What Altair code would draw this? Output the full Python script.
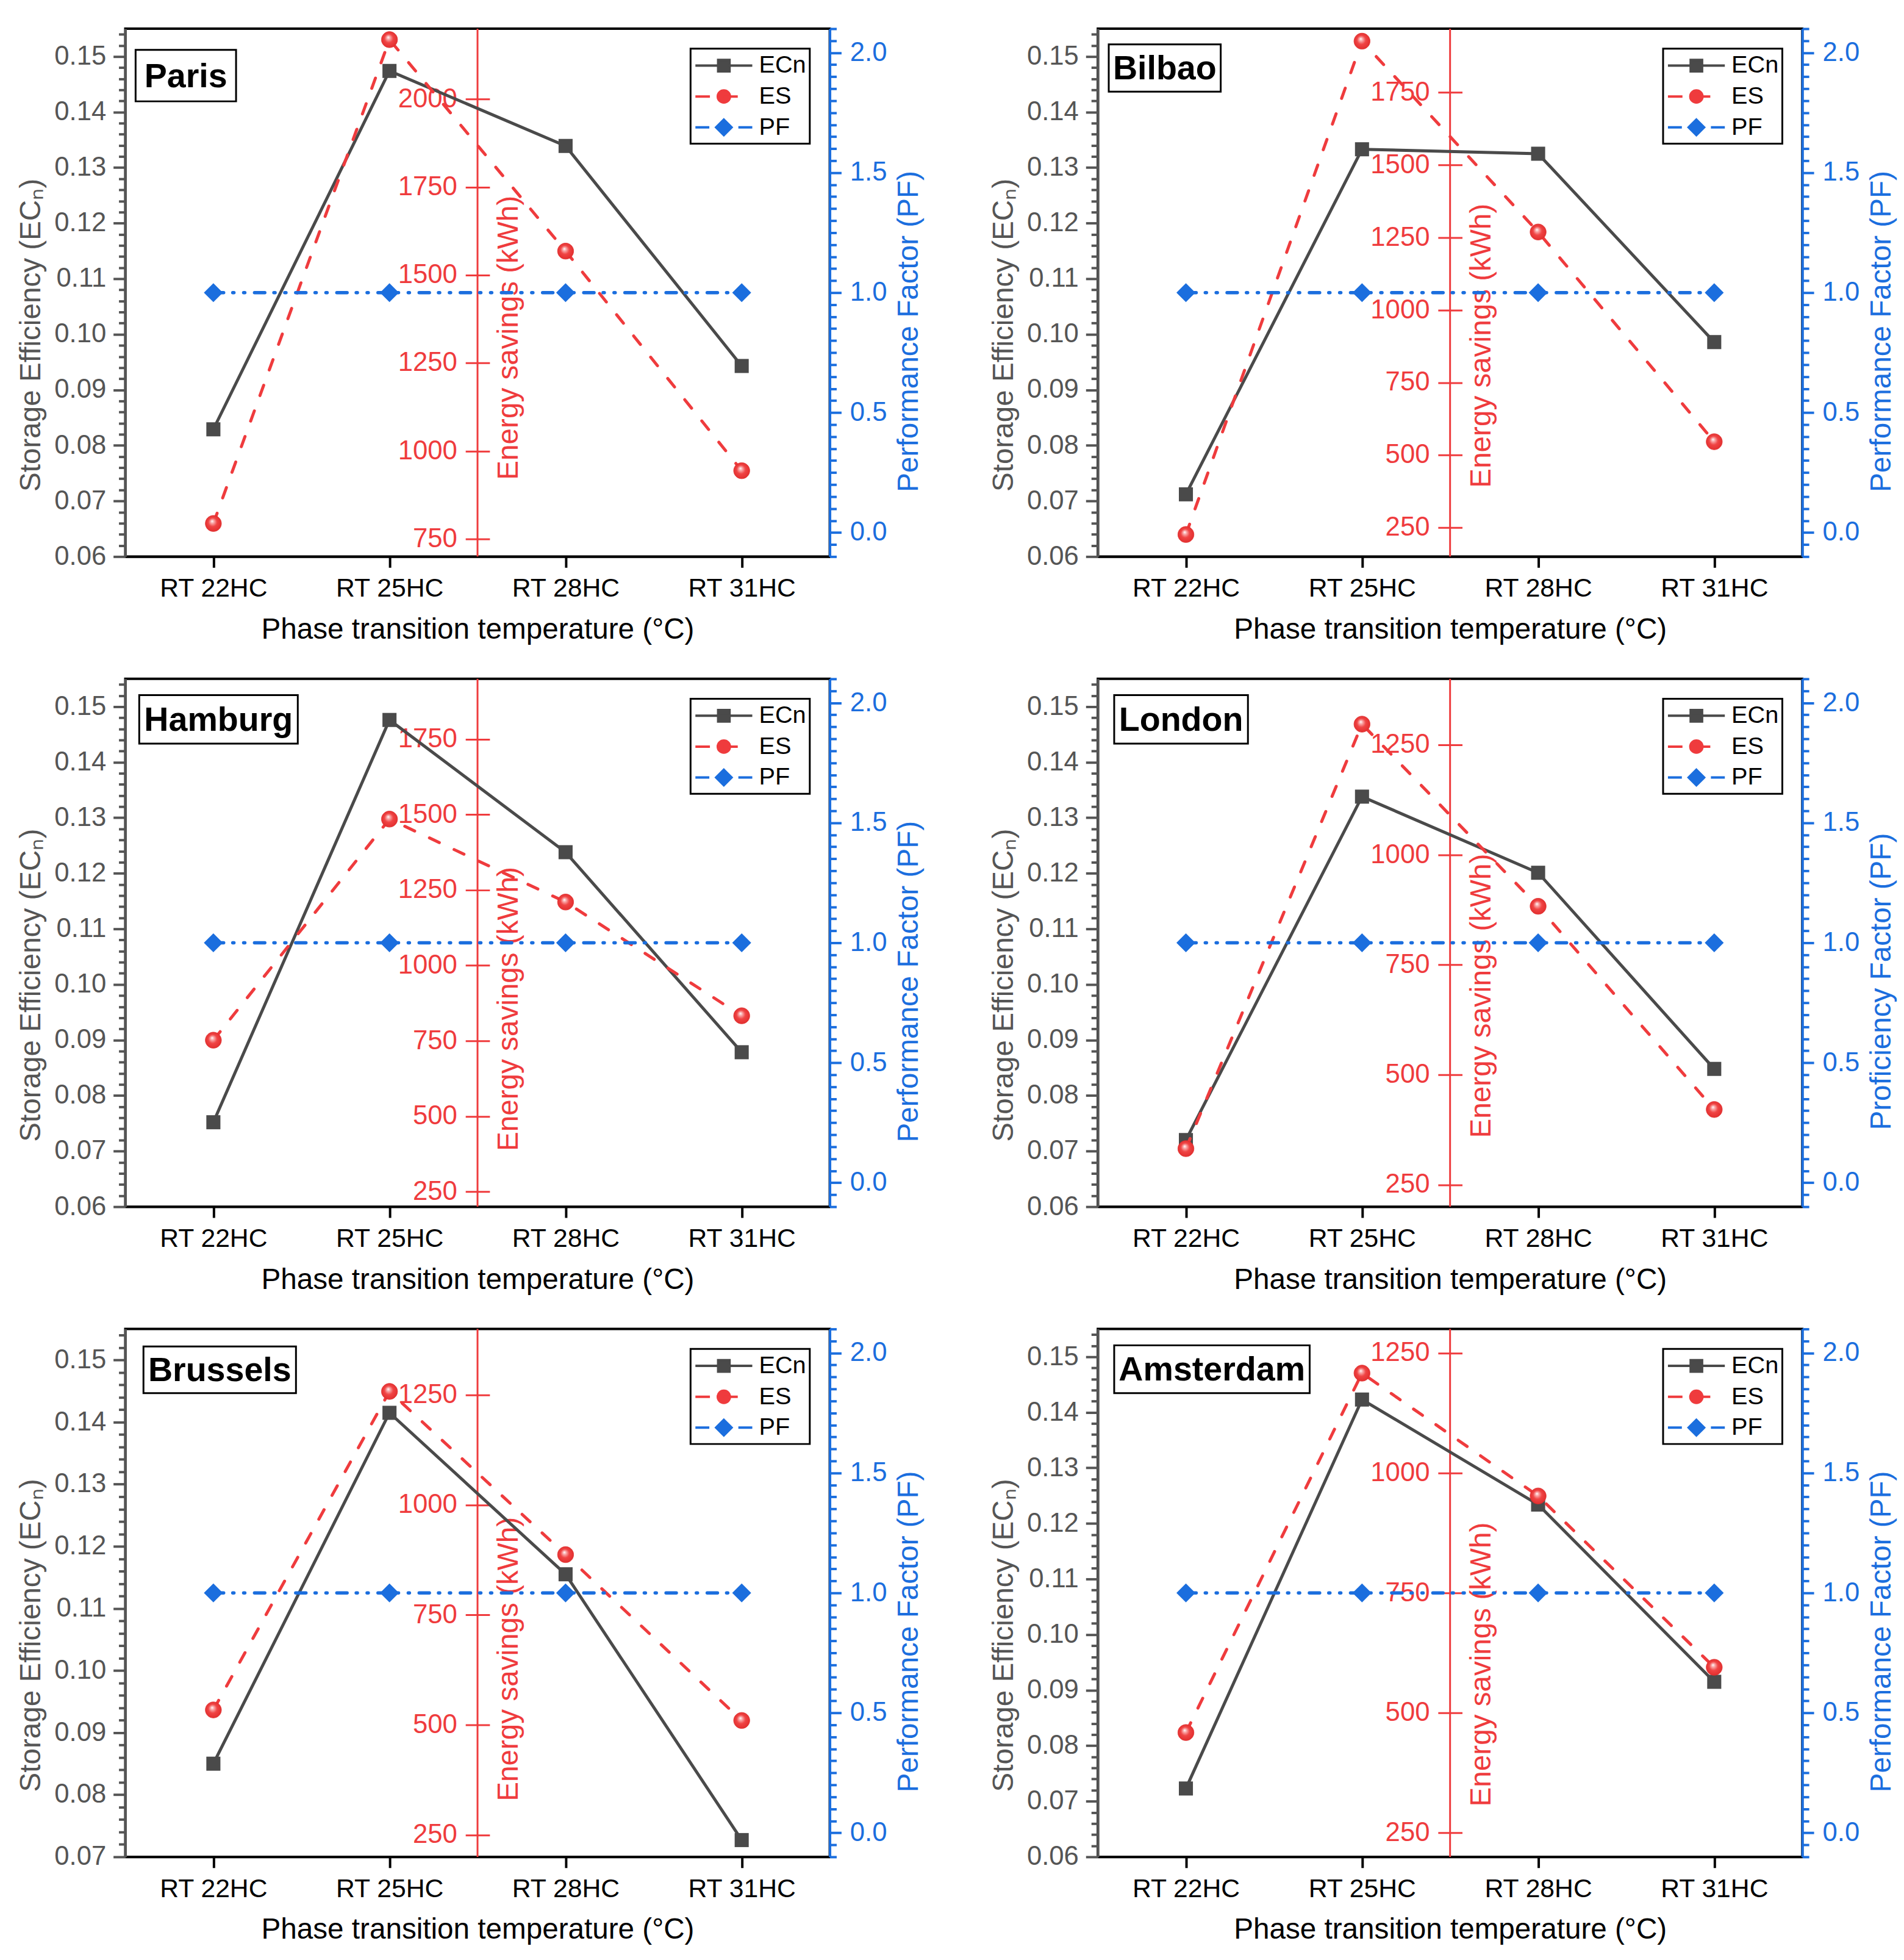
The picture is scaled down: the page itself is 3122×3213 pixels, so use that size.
import altair as alt
import pandas as pd

FONT = "Liberation Sans"
W, H = 1164, 872

CITIES = ["Paris", "Bilbao", "Hamburg", "London", "Brussels", "Amsterdam"]
CATS = ["RT 22HC", "RT 25HC", "RT 28HC", "RT 31HC"]
SERIES = ["ECn", "ES", "PF"]

# Storage efficiency (ECn)
ECN_PARIS = [0.0829, 0.1474, 0.1339, 0.0943]
ECN_BILBAO = [0.0712, 0.1333, 0.1325, 0.0986]
ECN_HAMBURG = [0.0752, 0.1476, 0.1238, 0.0878]
ECN_LONDON = [0.0720, 0.1338, 0.1201, 0.0848]
ECN_BRUSSELS = [0.0850, 0.1415, 0.1155, 0.0727]
ECN_AMSTERDAM = [0.0723, 0.1423, 0.1234, 0.0915]

# Energy savings (kWh)
ES_PARIS = [794, 2169, 1568, 944]
ES_BILBAO = [226, 1927, 1269, 546]
ES_HAMBURG = [752, 1485, 1210, 833]
ES_LONDON = [332, 1297, 883, 421]
ES_BRUSSELS = [534, 1258, 887, 510]
ES_AMSTERDAM = [459, 1208, 952, 595]

# Performance factor (PF)
PF_PARIS = [1.0, 1.0, 1.0, 1.0]
PF_BILBAO = [1.0, 1.0, 1.0, 1.0]
PF_HAMBURG = [1.0, 1.0, 1.0, 1.0]
PF_LONDON = [1.0, 1.0, 1.0, 1.0]
PF_BRUSSELS = [1.0, 1.0, 1.0, 1.0]
PF_AMSTERDAM = [1.0, 1.0, 1.0, 1.0]

ECN = [ECN_PARIS, ECN_BILBAO, ECN_HAMBURG, ECN_LONDON, ECN_BRUSSELS, ECN_AMSTERDAM]
ES = [ES_PARIS, ES_BILBAO, ES_HAMBURG, ES_LONDON, ES_BRUSSELS, ES_AMSTERDAM]
PF = [PF_PARIS, PF_BILBAO, PF_HAMBURG, PF_LONDON, PF_BRUSSELS, PF_AMSTERDAM]

# axis domains and tick labels
ECN_DOMAINS = [[0.06, 0.155], [0.06, 0.155], [0.06, 0.155], [0.06, 0.155], [0.07, 0.155], [0.06, 0.155]]
ES_DOMAINS = [[700, 2200], [150, 1970], [200, 1950], [200, 1400], [200, 1400], [200, 1300]]
ES_TICKS = [
    [750, 1000, 1250, 1500, 1750, 2000],
    [250, 500, 750, 1000, 1250, 1500, 1750],
    [250, 500, 750, 1000, 1250, 1500, 1750],
    [250, 500, 750, 1000, 1250],
    [250, 500, 750, 1000, 1250],
    [250, 500, 750, 1000, 1250],
]
PF_DOMAIN = [-0.1, 2.1]
PF_TITLES = ["Performance Factor (PF)", "Performance Factor (PF)", "Performance Factor (PF)",
             "Proficiency Factor (PF)", "Performance Factor (PF)", "Performance Factor (PF)"]

# styling (positions of annotation boxes, title offsets)
ES_TITLE_FRAC = [0.585, 0.60, 0.625, 0.60, 0.625, 0.635]
BOX_X = [17, 18, 23, 27, 30, 27]
BOX_Y = [35, 26, 27, 27, 29, 27]
BOX_W = [166, 185, 262, 221, 252, 323]
BOX_H = [85, 78, 80, 80, 77, 79]

GRAY = "#4a4a4a"
AXGRAY = "#555555"
RED = "#EF3B3D"
BLUE = "#1B6EDE"
COLORS = [GRAY, RED, BLUE]

# legend symbols: line + marker, drawn at 20 px per unit (symbolSize 1600)
LEG_PATHS = [
    "M-2.35,0H2.35M-0.47,-0.47H0.47V0.47H-0.47Z",
    "M-2.35,0H-1.15M0,0H1.15M-0.5,0A0.5,0.5 0 1,0 0.5,0A0.5,0.5 0 1,0 -0.5,0Z",
    "M-2.35,0H-1.2M1.2,0H2.35M0,-0.64L0.64,0L0,0.64L-0.64,0Z",
]

ES_GRAD = {
    "gradient": "radial",
    "x1": 0.42, "y1": 0.35, "r1": 0.0,
    "x2": 0.5, "y2": 0.5, "r2": 0.55,
    "stops": [
        {"offset": 0.0, "color": "#ffffff"},
        {"offset": 0.2, "color": "#f9a8a8"},
        {"offset": 0.5, "color": "#f04444"},
        {"offset": 1.0, "color": "#e02c2c"},
    ],
}

ECN_MAJOR = "abs(datum.value * 100 - round(datum.value * 100)) < 0.01"
PF_MAJOR = "abs(datum.value * 2 - round(datum.value * 2)) < 0.01"


def ecn_ticks(lo, hi):
    n = int((hi - lo) / 0.002 + 1e-9)
    return [round(lo + k * 0.002, 3) for k in range(n + 1)]


PF_TICKS = [round(-0.1 + k * 0.05, 2) for k in range(45)]

XSCALE = alt.Scale(type="point", domain=CATS, padding=0.5)


def xaxis():
    return alt.Axis(
        orient="bottom", labelAngle=0, labelFontSize=43, labelColor="black", labelPadding=14,
        tickColor="black", tickWidth=4, tickSize=18, domainColor="black", domainWidth=4,
        title="Phase transition temperature (°C)", titleFontSize=48, titleColor="black",
        titleFontWeight="normal", titlePadding=22, grid=False,
    )


def panel(i):
    df = pd.DataFrame({"cat": CATS, "ECn": ECN[i], "ES": ES[i], "PF": PF[i]})
    base = alt.Chart(df)

    left_axis = alt.Axis(
        orient="left", values=ecn_ticks(*ECN_DOMAINS[i]),
        labelExpr=f"{ECN_MAJOR} ? format(datum.value, '.2f') : ''",
        labelFontSize=44, labelColor=AXGRAY, labelPadding=12, labelOverlap=False,
        tickColor=AXGRAY, tickWidth=4,
        tickSize={"condition": {"test": ECN_MAJOR, "value": 20}, "value": 11},
        domainColor=AXGRAY, domainWidth=4, grid=False,
        title="Storage Efficiency (ECₙ)", titleFontSize=48, titleColor=AXGRAY,
        titleFontWeight="normal", titlePadding=13, titleAlign="center", titleY=0.58 * H,
    )
    ecn = base.mark_line(
        color=GRAY, strokeWidth=5,
        point=alt.OverlayMarkDef(shape="square", filled=True, size=540, color=GRAY, opacity=1),
    ).encode(
        x=alt.X("cat:N", scale=XSCALE, axis=xaxis()),
        y=alt.Y("ECn:Q", scale=alt.Scale(domain=ECN_DOMAINS[i], nice=False, zero=False), axis=left_axis),
    )

    es_axis = alt.Axis(
        orient="left", offset=-(W / 2 + 20), values=ES_TICKS[i], format="d",
        labelFontSize=44, labelColor=RED, labelPadding=14, labelOverlap=False,
        tickColor=RED, tickWidth=3, tickSize=40, domain=False, grid=False,
        title="Energy savings (kWh)", titleFontSize=48, titleColor=RED, titleFontWeight="normal",
        titleAngle=270, titleBaseline="top", titleAlign="center",
        titleX=8, titleY=ES_TITLE_FRAC[i] * H,
    )
    es = base.mark_line(
        color=RED, strokeWidth=5, strokeDash=[18, 27], strokeCap="round",
        point=alt.OverlayMarkDef(shape="circle", filled=True, size=700, fill=ES_GRAD,
                                 stroke="#e02c2c", strokeWidth=1, strokeDash=[1, 0], opacity=1),
    ).encode(
        x=alt.X("cat:N", scale=XSCALE, axis=xaxis()),
        y=alt.Y("ES:Q", scale=alt.Scale(domain=ES_DOMAINS[i], nice=False, zero=False), axis=es_axis),
    )

    pf_axis = alt.Axis(
        orient="right", values=PF_TICKS,
        labelExpr=f"{PF_MAJOR} ? format(datum.value, '.1f') : ''",
        labelFontSize=44, labelColor=BLUE, labelPadding=14, labelOverlap=False,
        tickColor=BLUE, tickWidth=4,
        tickSize={"condition": {"test": PF_MAJOR, "value": 19}, "value": 11},
        domainColor=BLUE, domainWidth=4, grid=False,
        title=PF_TITLES[i], titleFontSize=48, titleColor=BLUE, titleFontWeight="normal",
        titlePadding=13, titleAngle=270, titleBaseline="top", titleAlign="center",
        titleY=0.573 * H,
    )
    pf = base.mark_line(
        color=BLUE, strokeWidth=5.5, strokeDash=[17, 15, 2, 16, 2, 16], strokeCap="round",
        point=alt.OverlayMarkDef(shape="diamond", filled=True, size=980, color=BLUE, opacity=1),
    ).encode(
        x=alt.X("cat:N", scale=XSCALE, axis=xaxis()),
        y=alt.Y("PF:Q", scale=alt.Scale(domain=PF_DOMAIN, nice=False, zero=False), axis=pf_axis),
    )

    one = alt.Data(values=[{"city": CITIES[i]}])
    rule = alt.Chart(one).mark_rule(color=RED, strokeWidth=3).encode(
        x=alt.value(W / 2), y=alt.value(0), y2=alt.value(H))
    box = alt.Chart(one).mark_rect(fill="white", stroke="black", strokeWidth=3).encode(
        x=alt.value(BOX_X[i]), x2=alt.value(BOX_X[i] + BOX_W[i]),
        y=alt.value(BOX_Y[i]), y2=alt.value(BOX_Y[i] + BOX_H[i]))
    label = alt.Chart(one).mark_text(font=FONT, fontSize=56, fontWeight="bold", color="black",
                                     align="center", baseline="middle").encode(
        x=alt.value(BOX_X[i] + BOX_W[i] / 2), y=alt.value(BOX_Y[i] + BOX_H[i] / 2 + 2),
        text="city:N")

    leg_data = alt.Data(values=[{"series": s} for s in SERIES])
    leg = alt.Chart(leg_data).mark_point(opacity=0, strokeWidth=4).encode(
        fill=alt.Fill("series:N", scale=alt.Scale(domain=SERIES, range=COLORS),
                      legend=alt.Legend(title=None)),
        stroke=alt.Stroke("series:N", scale=alt.Scale(domain=SERIES, range=COLORS),
                          legend=alt.Legend(title=None)),
        shape=alt.Shape("series:N", scale=alt.Scale(domain=SERIES, range=LEG_PATHS),
                        legend=alt.Legend(title=None)),
    )

    return alt.layer(rule, ecn, es, pf, leg, box, label).resolve_scale(
        y="independent").properties(width=W, height=H)


panels = [panel(i) for i in range(6)]

chart = alt.concat(*panels, columns=2, spacing={"row": 31, "column": 104}).resolve_scale(
    fill="independent", stroke="independent", shape="independent"
).resolve_legend(
    fill="independent", stroke="independent", shape="independent"
).properties(
    padding={"left": 18, "top": 3, "right": 2, "bottom": 2}
).configure(
    font=FONT
).configure_view(
    stroke="black", strokeWidth=4
).configure_legend(
    orient="top-right", offset=33, strokeColor="black", strokeWidth=3, fillColor="white",
    padding=6, labelFontSize=40, labelFont=FONT, labelColor="black", symbolSize=1600,
    symbolOffset=27, symbolStrokeWidth=4, symbolOpacity=1, rowPadding=9, labelOffset=36,
    titlePadding=0,
)

chart.save("out.html", embed_options={"renderer": "svg", "actions": False})
